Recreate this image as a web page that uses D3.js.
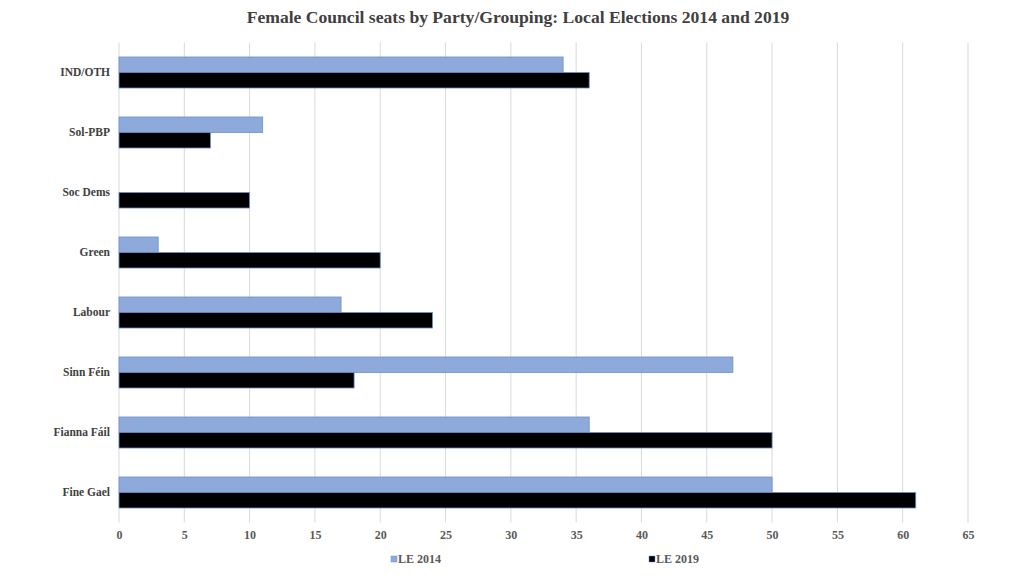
<!DOCTYPE html>
<html>
<head>
<meta charset="utf-8">
<script src="https://cdn.jsdelivr.net/npm/d3@7"></script>
<style>
  body { margin: 0; background: #fff; }
  svg text { font-family: "Liberation Serif", "Times New Roman", serif; font-weight: bold; }
</style>
</head>
<body>
<svg id="chart" width="1024" height="576"></svg>
<script>
// party / grouping, top to bottom as shown
const parties = ["IND/OTH", "Sol-PBP", "Soc Dems", "Green", "Labour", "Sinn Féin", "Fianna Fáil", "Fine Gael"];
const seriesNames = ["LE 2014", "LE 2019"];
const le2014 = [34, 11, 0, 3, 17, 47, 36, 50];
const le2019 = [36, 7, 10, 20, 24, 18, 50, 61];
const xTicks = [0, 5, 10, 15, 20, 25, 30, 35, 40, 45, 50, 55, 60, 65];

const colors = { "LE 2014": "#8eaadb", "LE 2019": "#000000" };

const svg = d3.select("#chart");
const margin = { left: 119, right: 56, top: 42.5, bottom: 53.5 };
const width = 1024, height = 576;

const x = d3.scaleLinear()
    .domain([0, 65])
    .range([margin.left, width - margin.right]);

const y = d3.scaleBand()
    .domain(parties)
    .range([margin.top, height - margin.bottom])
    .paddingInner(0.483)
    .paddingOuter(0.2415);

const ySub = d3.scaleBand()
    .domain(seriesNames)
    .range([0, y.bandwidth()]);

// title
svg.append("text")
    .attr("x", 518)
    .attr("y", 23)
    .attr("text-anchor", "middle")
    .attr("font-size", 17.6)
    .attr("fill", "#404040")
    .text("Female Council seats by Party/Grouping: Local Elections 2014 and 2019");

// gridlines
svg.append("g")
    .selectAll("line")
    .data(xTicks)
    .join("line")
    .attr("x1", d => x(d))
    .attr("x2", d => x(d))
    .attr("y1", margin.top)
    .attr("y2", height - margin.bottom)
    .attr("stroke", "#d9d9d9")
    .attr("stroke-width", 1);

// bars
const rows = parties.map((p, i) => ({ party: p, values: [
    { series: "LE 2014", value: le2014[i] },
    { series: "LE 2019", value: le2019[i] }
]}));

const groups = svg.append("g")
    .selectAll("g")
    .data(rows)
    .join("g")
    .attr("transform", d => `translate(0,${y(d.party)})`);

groups.selectAll("rect")
    .data(d => d.values.filter(v => v.value > 0))
    .join("rect")
    .attr("x", x(0))
    .attr("y", d => ySub(d.series))
    .attr("width", d => x(d.value) - x(0))
    .attr("height", ySub.bandwidth())
    .attr("fill", d => colors[d.series])
    .attr("stroke", "#6f8fc9")
    .attr("stroke-width", 0.8);

// x axis labels
const xAxis = svg.append("g")
    .attr("transform", `translate(0,${height - margin.bottom})`)
    .call(d3.axisBottom(x).tickValues(xTicks).tickSize(0).tickPadding(8));
xAxis.select(".domain").remove();
xAxis.selectAll("text")
    .attr("font-size", 12)
    .attr("font-family", "Liberation Serif, serif")
    .attr("font-weight", "bold")
    .attr("fill", "#595959");

// y axis labels
const yAxis = svg.append("g")
    .attr("transform", `translate(${margin.left},0)`)
    .call(d3.axisLeft(y).tickSize(0).tickPadding(9));
yAxis.select(".domain").remove();
yAxis.selectAll("text")
    .attr("font-size", 11.5)
    .attr("font-family", "Liberation Serif, serif")
    .attr("font-weight", "bold")
    .attr("fill", "#404040");

// legend
const legendX = [391, 649];
const legend = svg.append("g")
    .selectAll("g")
    .data(seriesNames)
    .join("g")
    .attr("transform", (d, i) => `translate(${legendX[i]},559)`);

legend.append("rect")
    .attr("x", 0)
    .attr("y", -3)
    .attr("width", 6)
    .attr("height", 6)
    .attr("fill", d => colors[d])
    .attr("stroke", "#6f8fc9")
    .attr("stroke-width", 0.5);

legend.append("text")
    .attr("x", 7)
    .attr("y", 4)
    .attr("font-size", 12)
    .attr("fill", "#595959")
    .text(d => d);
</script>
</body>
</html>
